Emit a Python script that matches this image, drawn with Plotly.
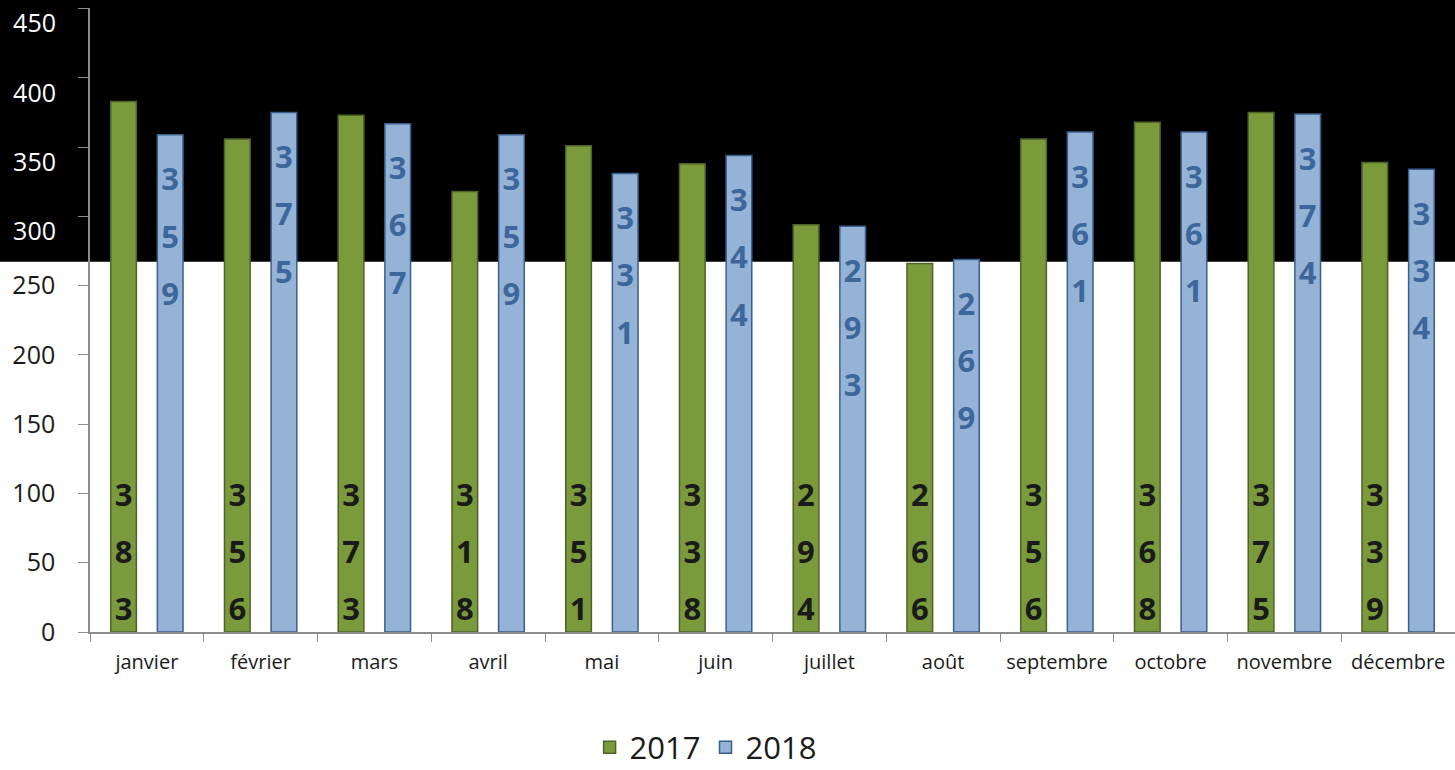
import plotly.graph_objects as go

months = ["janvier", "février", "mars", "avril", "mai", "juin", "juillet",
          "août", "septembre", "octobre", "novembre", "décembre"]
values_2017 = [383, 356, 373, 318, 351, 338, 294, 266, 356, 368, 375, 339]
values_2018 = [359, 375, 367, 359, 331, 344, 293, 269, 361, 361, 374, 334]
y_tick_vals = [0, 50, 100, 150, 200, 250, 300, 350, 400, 450]
dark_band_from = 267  # value above which the background is black
y_max = 450


def vertical_label(v, lead=False, digit_size=31):
    parts = ["<span style='font-size:%dpx'>%s</span>" % (digit_size, d) for d in str(v)]
    s = "<br><br>".join(parts)
    if lead:
        s = " <br>" + s
    return s


dark_vals = [v for v in y_tick_vals if v >= dark_band_from]

fig = go.Figure()
fig.add_trace(go.Bar(
    name="2017", x=months, y=values_2017,
    marker=dict(color="#7a9a3c", line=dict(color="#4f6228", width=1.5)),
    text=[vertical_label(v) for v in values_2017],
    textposition="inside", insidetextanchor="start", constraintext="none",
    textangle=0,
    textfont=dict(family="Open Sans", size=22, color="#1a1a1a", weight="bold"),
    hoverinfo="skip",
))
fig.add_trace(go.Bar(
    name="2018", x=months, y=values_2018,
    marker=dict(color="#95b3d7", line=dict(color="#3a5f8c", width=1.5)),
    text=[vertical_label(v, lead=True) for v in values_2018],
    textposition="inside", insidetextanchor="end", constraintext="none",
    textangle=0,
    textfont=dict(family="Open Sans", size=22, color="#3d679a", weight="bold"),
    hoverinfo="skip",
))
# empty helper trace so that the label-only axis for the dark band is drawn
fig.add_trace(go.Bar(x=[], y=[], yaxis="y2", showlegend=False, hoverinfo="skip"))

fig.add_shape(type="rect", xref="paper", yref="paper",
              x0=-0.2, x1=1.05, y0=dark_band_from / y_max, y1=1.2,
              fillcolor="black", line=dict(width=0), layer="below")

fig.update_layout(
    width=1455, height=770,
    margin=dict(l=90, r=0, t=8, b=138),
    paper_bgcolor="white", plot_bgcolor="rgba(0,0,0,0)",
    barmode="group", bargap=0.18, bargroupgap=0.45,
    font=dict(family="Open Sans", color="#1a1a1a"),
    showlegend=True,
    legend=dict(orientation="h", x=0.451, xanchor="center",
                yref="container", y=0.029, yanchor="middle",
                font=dict(size=31, color="#1a1a1a"), tracegroupgap=0,
                traceorder="normal"),
    yaxis=dict(range=[0, y_max + 0.5], tickvals=y_tick_vals,
               ticktext=[str(v) if v < dark_band_from else "" for v in y_tick_vals],
               showgrid=False, zeroline=False, showline=True,
               linecolor="#8c8c8c", linewidth=1.5,
               ticks="outside", ticklen=10, tickcolor="#8c8c8c",
               tickfont=dict(size=25, color="#1a1a1a"), ticklabelstandoff=18,
               automargin=False),
    yaxis2=dict(range=[0, y_max + 0.5], overlaying="y", side="left",
                tickvals=dark_vals, ticktext=[str(v) for v in dark_vals],
                showgrid=False, zeroline=False, showline=False, ticks="outside",
                ticklen=10, tickcolor="rgba(0,0,0,0)",
                tickfont=dict(size=25, color="white"), ticklabelstandoff=18,
                ticklabelshift=15, automargin=False),
)
fig.update_xaxes(showgrid=False, showline=True, linecolor="#8c8c8c", linewidth=1.5,
                 ticks="outside", ticklen=8, tickcolor="#8c8c8c",
                 tickson="boundaries", tickfont=dict(size=20, color="#1a1a1a"),
                 tickangle=0, ticklabelstandoff=11, range=[-0.5, 11.5],
                 automargin=False)

fig.write_html("out.html")
